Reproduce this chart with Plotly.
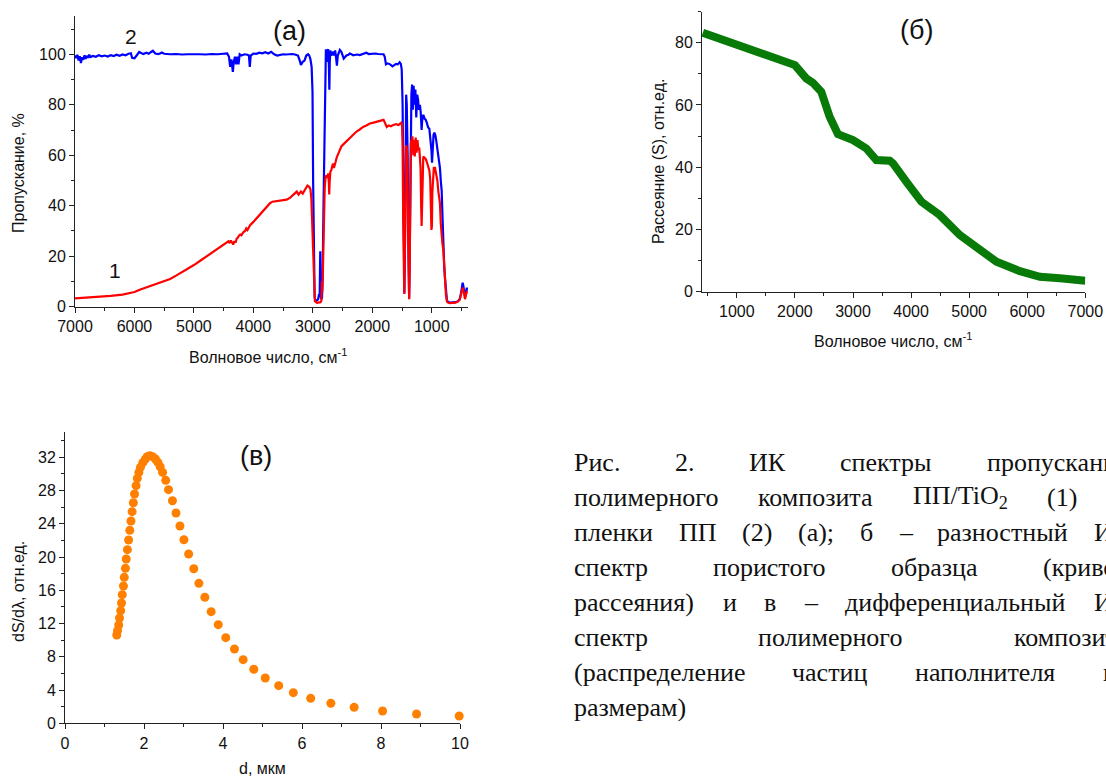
import plotly.graph_objects as go

W, H = 1106, 778

# ---------------- Panel (а): IR transmission spectra ----------------
wn_film = [7000, 6980, 6960, 6940, 6920, 6900, 6880, 6860, 6840, 6820, 6800, 6780, 6760, 6740, 6700,
           6650, 6600, 6550, 6500, 6450, 6400, 6350, 6300, 6250, 6200, 6150, 6100, 6060, 6040, 6000,
           5960, 5920, 5880, 5850, 5800, 5760, 5720, 5690, 5650, 5600, 5560, 5540, 5500, 5400, 5300,
           5200, 5100, 5000, 4900, 4800, 4700, 4600, 4500, 4440, 4410, 4390, 4370, 4345, 4330, 4310,
           4290, 4270, 4250, 4230, 4200, 4150, 4100, 4075, 4060, 4045, 4000, 3950, 3900, 3850, 3800,
           3750, 3700, 3650, 3600, 3550, 3500, 3450, 3400, 3350, 3300, 3250, 3220, 3200, 3170, 3140,
           3110, 3080, 3060, 3040, 3020, 3005, 2995, 2980, 2970, 2960, 2930, 2910, 2895, 2885, 2880,
           2875, 2870, 2860, 2845, 2835, 2820, 2800, 2790, 2780, 2770, 2760, 2750, 2740, 2730, 2722,
           2715, 2705, 2690, 2675, 2660, 2645, 2625, 2610, 2595, 2580, 2560, 2545, 2520, 2500, 2480,
           2460, 2435, 2400, 2380, 2350, 2320, 2280, 2250, 2210, 2150, 2100, 2060, 2020, 1985, 1950,
           1900, 1850, 1810, 1790, 1770, 1740, 1700, 1660, 1640, 1600, 1570, 1540, 1520, 1505, 1490,
           1478, 1470, 1460, 1452, 1440, 1430, 1420, 1405, 1390, 1380, 1370, 1355, 1342, 1330, 1318,
           1305, 1290, 1275, 1260, 1245, 1230, 1215, 1199, 1185, 1170, 1160, 1142, 1120, 1100, 1085,
           1060, 1040, 1020, 1005, 995, 985, 970, 955, 940, 925, 905, 890, 875, 862, 848,
           833, 818, 805, 790, 776, 760, 745, 737, 720, 680, 640, 600, 560, 530, 510,
           495, 480, 470, 455, 440, 425, 410, 395]
T_film = [99.5, 98.5, 99.8, 97.5, 99.2, 96.5, 98.8, 97.8, 99.6, 98.2, 99.4, 98.6, 99.8, 98.9, 99.3,
          99.0, 99.6, 99.2, 99.5, 99.1, 99.6, 99.3, 99.8, 99.4, 99.9, 99.6, 100.2, 100.4, 98.6, 98.4,
          99.6, 100.9, 100.4, 100.1, 100.6, 100.2, 100.9, 101.4, 100.3, 100.1, 100.4, 100.7, 100.2, 100.0, 100.1,
          99.9, 100.0, 100.1, 100.0, 99.9, 100.1, 100.0, 100.2, 100.3, 99.0, 95.0, 98.0, 93.0, 97.0, 99.0,
          96.0, 99.0, 96.0, 100.0, 99.5, 100.0, 99.8, 99.5, 95.0, 99.5, 100.3, 100.2, 100.6, 100.4, 100.8,
          100.3, 101.0, 100.0, 99.5, 99.8, 100.0, 99.9, 100.0, 100.1, 99.9, 99.5, 97.5, 95.8, 97.0, 97.5,
          99.5, 100.0, 99.5, 98.0, 95.0, 85.0, 50.0, 15.0, 4.0, 2.5, 2.5, 3.0, 5.0, 4.0, 20.0,
          22.0, 5.0, 3.0, 3.5, 12.0, 40.0, 80.0, 98.0, 102.0, 99.0, 97.0, 101.5, 102.0, 96.0, 86.0,
          97.0, 101.5, 99.5, 100.5, 101.0, 99.5, 101.5, 99.0, 95.5, 99.5, 100.5, 101.7, 101.0, 100.0, 98.3,
          98.8, 99.5, 99.8, 100.3, 100.0, 99.6, 99.8, 99.9, 99.7, 100.3, 100.6, 100.1, 100.2, 100.0, 100.3,
          100.1, 100.0, 100.0, 99.0, 96.0, 96.4, 96.0, 95.2, 95.6, 96.2, 96.0, 96.8, 96.2, 94.0, 80.0,
          40.0, 10.0, 5.3, 20.0, 70.0, 84.0, 80.0, 60.0, 20.0, 3.3, 20.0, 75.0, 84.0, 88.0, 78.0,
          87.5, 80.0, 86.0, 75.0, 84.0, 82.0, 78.0, 80.0, 77.0, 70.0, 74.0, 76.0, 74.5, 74.0, 73.0,
          71.0, 70.5, 66.0, 62.0, 57.0, 62.0, 68.0, 69.0, 68.0, 66.0, 63.0, 60.8, 58.0, 55.0, 50.0,
          46.0, 35.0, 23.0, 16.0, 11.0, 5.0, 2.8, 2.2, 1.8, 1.6, 1.6, 1.8, 2.2, 3.0, 5.0,
          8.0, 9.5, 8.5, 5.5, 4.0, 5.5, 7.5, 6.5]

wn_comp = [7000, 6800, 6600, 6400, 6200, 6100, 6000, 5900, 5800, 5700, 5600, 5500, 5400, 5300, 5200,
           5100, 5000, 4900, 4800, 4700, 4600, 4500, 4450, 4420, 4400, 4380, 4360, 4340, 4320, 4300,
           4280, 4260, 4240, 4220, 4200, 4170, 4140, 4120, 4100, 4080, 4055, 4000, 3970, 3900, 3830,
           3770, 3720, 3680, 3610, 3540, 3440, 3380, 3330, 3270, 3240, 3200, 3170, 3140, 3110, 3090,
           3060, 3040, 3025, 3010, 2995, 2980, 2965, 2930, 2900, 2870, 2855, 2848, 2840, 2830, 2815,
           2800, 2785, 2770, 2755, 2740, 2730, 2724, 2718, 2705, 2690, 2675, 2660, 2645, 2630, 2615,
           2600, 2575, 2545, 2520, 2500, 2450, 2380, 2320, 2265, 2210, 2155, 2100, 2040, 1980, 1925,
           1870, 1830, 1810, 1790, 1770, 1755, 1720, 1690, 1645, 1600, 1560, 1530, 1510, 1500, 1490,
           1480, 1470, 1462, 1455, 1445, 1432, 1420, 1410, 1398, 1390, 1380, 1372, 1362, 1352, 1345,
           1335, 1325, 1310, 1298, 1285, 1270, 1255, 1240, 1225, 1210, 1199, 1188, 1178, 1170, 1162,
           1150, 1142, 1120, 1100, 1085, 1060, 1040, 1025, 1012, 1005, 997, 990, 980, 965, 945,
           925, 905, 890, 875, 862, 848, 833, 820, 805, 790, 776, 760, 745, 737, 700,
           650, 600, 560, 530, 510, 495, 480, 470, 455, 440, 425, 410, 395]
T_comp = [3.3, 3.6, 3.9, 4.3, 4.8, 5.2, 5.8, 6.8, 7.6, 8.4, 9.1, 9.9, 11.0, 12.3, 13.6,
          15.0, 16.5, 18.1, 19.7, 21.4, 23.0, 24.4, 25.3, 25.9, 25.2, 26.2, 25.5, 24.6, 26.0, 25.4,
          27.0, 27.4, 28.2, 28.6, 28.3, 29.5, 30.0, 31.0, 30.4, 31.5, 32.3, 33.6, 34.4, 36.2, 38.0,
          39.8, 41.0, 41.6, 41.8, 41.9, 42.4, 43.2, 44.3, 45.6, 44.4, 45.6, 44.8, 46.0, 47.3, 48.0,
          47.5, 46.5, 43.0, 33.0, 18.0, 6.0, 2.2, 1.5, 1.6, 1.8, 2.5, 10.0, 6.0, 15.0, 35.0,
          47.0, 51.5, 52.0, 51.0, 52.8, 49.0, 44.5, 49.0, 53.5, 54.0, 55.5, 56.7, 55.0, 56.0, 57.5,
          59.0, 60.5, 62.8, 63.5, 64.0, 65.2, 67.0, 68.2, 69.4, 70.2, 71.2, 71.8, 72.6, 72.9, 73.3,
          73.5, 73.9, 74.0, 73.0, 71.5, 71.2, 71.8, 71.5, 72.0, 72.3, 72.0, 72.7, 72.9, 72.0, 65.0,
          35.0, 8.0, 5.0, 15.0, 50.0, 64.0, 63.0, 58.0, 30.0, 8.0, 3.0, 12.0, 50.0, 64.0, 66.0,
          62.0, 67.5, 60.0, 66.0, 59.5, 67.0, 61.0, 66.0, 62.0, 63.0, 60.0, 55.0, 40.0, 32.0, 40.0,
          55.0, 59.5, 59.0, 58.5, 57.5, 56.0, 54.0, 50.0, 40.0, 30.4, 32.0, 45.0, 53.0, 55.0, 55.0,
          53.0, 50.0, 46.0, 44.0, 41.0, 33.0, 26.5, 25.0, 22.5, 16.0, 10.0, 4.5, 2.2, 1.8, 1.4,
          1.4, 1.6, 2.0, 2.8, 4.5, 6.5, 7.5, 7.0, 4.0, 3.0, 4.5, 6.0, 5.5]

# ---------------- Panel (б): scattering curve ----------------
wn_scat = [414, 1000, 2000, 2195, 2310, 2454, 2598, 2741, 3000, 3230, 3402, 3632, 3690, 3920,
           4178, 4380, 4494, 4839, 5069, 5471, 5874, 6218, 6563, 7000]
S_scat = [83.2, 79.4, 72.8, 68.5, 67.1, 64.2, 56.2, 50.6, 48.7, 46.0, 42.3, 42.1, 41.2, 35.3,
          28.9, 26.2, 24.6, 18.2, 15.0, 9.6, 6.6, 4.8, 4.3, 3.5]

# ---------------- Panel (в): particle size distribution ----------------
d_um = [1.31, 1.33, 1.36, 1.38, 1.41, 1.43, 1.45, 1.48, 1.50, 1.53, 1.55, 1.58, 1.61, 1.64, 1.67,
        1.70, 1.73, 1.76, 1.80, 1.83, 1.87, 1.91, 1.97, 2.03, 2.08, 2.15, 2.22, 2.29, 2.35, 2.41,
        2.47, 2.55, 2.62, 2.72, 2.81, 2.91, 3.01, 3.13, 3.26, 3.39, 3.54, 3.70, 3.88, 4.07, 4.29,
        4.51, 4.78, 5.07, 5.41, 5.78, 6.22, 6.73, 7.32, 8.04, 8.90, 9.98]
dS = [10.63, 11.15, 11.83, 12.67, 13.55, 14.47, 15.48, 16.52, 17.56, 18.64, 19.77, 20.89, 22.05, 23.22, 24.34,
      25.46, 26.54, 27.59, 28.59, 29.47, 30.19, 30.80, 31.36, 31.76, 32.08, 32.20, 32.08, 31.80, 31.40, 30.87,
      30.19, 29.23, 28.11, 26.78, 25.30, 23.74, 22.09, 20.37, 18.60, 16.84, 15.16, 13.43, 11.87, 10.30, 8.94,
      7.66, 6.50, 5.45, 4.53, 3.69, 3.00, 2.41, 1.92, 1.48, 1.12, 0.88]

xticks_a = [7000, 6000, 5000, 4000, 3000, 2000, 1000]
xticks_b = [1000, 2000, 3000, 4000, 5000, 6000, 7000]

caption_lines = [
    "Рис. 2. ИК спектры пропускания",
    "полимерного композита ПП/TiO₂ (1) и",
    "пленки ПП (2) (а); б – разностный ИК",
    "спектр пористого образца (кривой",
    "рассеяния) и в – дифференциальный ИК",
    "спектр полимерного композита",
    "(распределение частиц наполнителя по",
    "размерам)",
]

SANS = "Liberation Sans, Arial, sans-serif"
SERIF = "Liberation Serif, Times New Roman, serif"


def px(x):
    return x / W


def py(y):
    return 1 - y / H


fig = go.Figure()
fig.add_trace(go.Scatter(x=wn_film, y=T_film, mode="lines", line=dict(color="#0000FF", width=2.2),
                         xaxis="x", yaxis="y", showlegend=False))
fig.add_trace(go.Scatter(x=wn_comp, y=T_comp, mode="lines", line=dict(color="#FF0000", width=2.2),
                         xaxis="x", yaxis="y", showlegend=False))
fig.add_trace(go.Scatter(x=wn_scat, y=S_scat, mode="lines", line=dict(color="#087A08", width=8),
                         xaxis="x2", yaxis="y2", showlegend=False))
fig.add_trace(go.Scatter(x=d_um, y=dS, mode="markers", marker=dict(color="#FF8000", size=9),
                         cliponaxis=False, xaxis="x3", yaxis="y3", showlegend=False))

base = dict(showline=True, linecolor="#222", linewidth=1, ticks="outside", ticklen=5, tickwidth=1,
            tickcolor="#222", showgrid=False, zeroline=False, automargin=False,
            tickfont=dict(family=SANS, size=16, color="#111"))


def ax(**kw):
    d = dict(base)
    d.update(kw)
    return d


def mn(step):
    return dict(ticks="outside", ticklen=3, tickcolor="#222", dtick=step, tick0=0, showgrid=False)


fig.update_layout(
    template="none",
    width=W, height=H, margin=dict(l=0, r=0, t=0, b=0, autoexpand=False),
    paper_bgcolor="white", plot_bgcolor="white",
    xaxis=ax(domain=[px(75), px(468)], range=[7000, 390], tickvals=xticks_a, anchor="y", minor=mn(500)),
    yaxis=ax(domain=[py(306.7), py(16.4)], range=[0, 115], dtick=20, tick0=0, anchor="x", minor=mn(10)),
    xaxis2=ax(domain=[px(702), px(1085.3)], range=[400, 7000], tickvals=xticks_b, anchor="y2", minor=mn(500)),
    yaxis2=ax(domain=[py(291.7), py(11.5)], range=[0, 90], dtick=20, tick0=0, anchor="x2", minor=mn(10)),
    xaxis3=ax(domain=[px(65), px(460)], range=[0, 10], dtick=2, tick0=0, anchor="y3", minor=mn(1)),
    yaxis3=ax(domain=[py(723.3), py(432.4)], range=[0, 35], dtick=4, tick0=0, anchor="x3", minor=mn(2)),
)

ann = []


def label(text, x, y, size=16, angle=0, family=SANS, xanchor="center"):
    ann.append(dict(text=text, x=px(x), y=py(y), xref="paper", yref="paper", showarrow=False,
                    xanchor=xanchor, yanchor="middle", textangle=angle,
                    font=dict(family=family, size=size, color="#111")))


# axis titles
label("Волновое число, см<sup>-1</sup>", 268, 356)
label("Пропускание, %", 18, 173, angle=-90)
label("Волновое число, см<sup>-1</sup>", 893, 340)
label("Рассеяние (S), отн.ед.", 659, 162, angle=-90)
label("d, мкм", 262, 768)
label("dS/dλ, отн.ед.", 18, 592, angle=-90)

# panel labels
label("(а)", 289, 31, size=27)
label("2", 131, 37, size=21)
label("1", 115, 271, size=21)
label("(б)", 916, 30, size=27)
label("(в)", 256, 456, size=27)

# ---- caption: justified text block, cut by the right edge of the page ----
CAP_SIZE = 26
CAP_LEFT, CAP_RIGHT = 572, 1128
CAP_TOP, CAP_STEP = 462, 35
EM = {  # approximate Times advance widths (em)
    "а": .444, "б": .5, "в": .472, "г": .41, "д": .5, "е": .444, "ж": .69, "з": .395, "и": .535,
    "й": .535, "к": .485, "л": .5, "м": .631, "н": .535, "о": .5, "п": .535, "р": .5, "с": .444,
    "т": .437, "у": .5, "ф": .648, "х": .5, "ц": .535, "ч": .5, "ш": .77, "щ": .77, "ъ": .5,
    "ы": .71, "ь": .473, "э": .44, "ю": .75, "я": .486, "Р": .556, "И": .722, "К": .667,
    "П": .722, "T": .611, "O": .722, "i": .278, ".": .25, "(": .333, ")": .333, "/": .278,
    ";": .278, "–": .5, "₂": .35, ",": .25,
}


def word_w(w):
    return sum(EM.get(c, .5) for c in w) * CAP_SIZE


for i, line in enumerate(caption_lines):
    words = line.split(" ")
    widths = [word_w(w) for w in words]
    last = i == len(caption_lines) - 1
    gap = 0.25 * CAP_SIZE if (last or len(words) == 1) else \
        (CAP_RIGHT - CAP_LEFT - sum(widths)) / (len(words) - 1)
    xw = CAP_LEFT
    for w, ww in zip(words, widths):
        txt = w.replace("₂", "<sub>2</sub>")
        label(txt, xw, CAP_TOP + i * CAP_STEP, size=CAP_SIZE, family=SERIF, xanchor="left")
        xw += ww + gap

fig.update_layout(annotations=ann)
# remove the browser's default 8px page margin so the figure sits at the page origin
fig.write_html("out.html", config={"displayModeBar": False},
               post_script="document.body.style.margin='0';")
